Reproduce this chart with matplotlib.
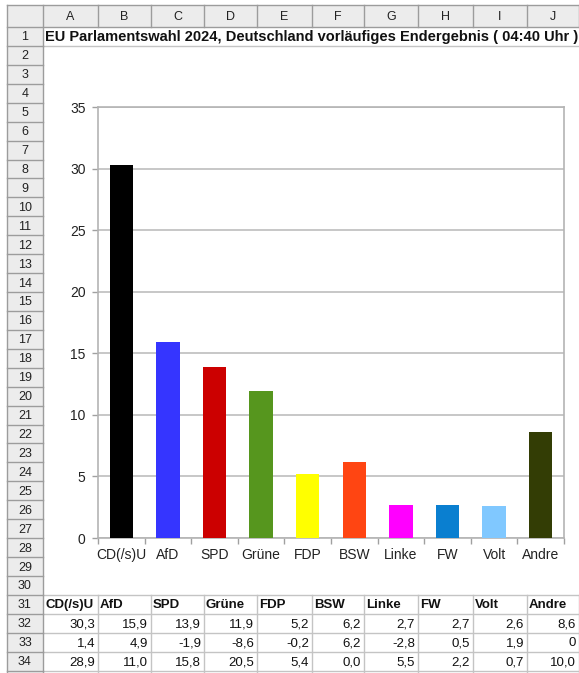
import matplotlib
matplotlib.use("Agg")
import matplotlib.pyplot as plt
from matplotlib.patches import Rectangle

W, H = 579, 673
DPI = 100

# ---------------- data ----------------
title = "EU Parlamentswahl 2024, Deutschland vorläufiges Endergebnis ( 04:40 Uhr )"
parties = ["CD(/s)U", "AfD", "SPD", "Grüne", "FDP", "BSW", "Linke", "FW", "Volt", "Andre"]
result_2024 = [30.3, 15.9, 13.9, 11.9, 5.2, 6.2, 2.7, 2.7, 2.6, 8.6]
change = [1.4, 4.9, -1.9, -8.6, -0.2, 6.2, -2.8, 0.5, 1.9, 0]
result_2019 = [28.9, 11.0, 15.8, 20.5, 5.4, 0.0, 5.5, 2.2, 0.7, 10.0]
bar_colors = ["#000000", "#3535ff", "#cc0000", "#56961e", "#ffff00",
              "#ff4512", "#ff00ff", "#0a7fd0", "#80c8ff", "#333d05"]
col_letters = ["A", "B", "C", "D", "E", "F", "G", "H", "I", "J"]
y_ticks = [0, 5, 10, 15, 20, 25, 30, 35]

# ---------------- sheet geometry (pixels) ----------------
col_edges = [43, 98, 151, 204, 257, 312, 364, 418, 473, 527, 579]
hdr_top, hdr_bot = 5, 27
row_h = 18.93
left_edge = 7
n_rows = 34


def row_top(k):
    return hdr_bot + (k - 1) * row_h


FONT = ["Liberation Sans", "DejaVu Sans"]
plt.rcParams["font.family"] = FONT

fig = plt.figure(figsize=(W / DPI, H / DPI), dpi=DPI)
bg = fig.add_axes([0, 0, 1, 1])
bg.set_xlim(0, W)
bg.set_ylim(H, 0)
bg.axis("off")

HDR_FACE = "#ececec"
HDR_LINE = "#9c9c9c"
GRID = "#c4c4c4"

# column header row
bg.add_patch(Rectangle((left_edge, hdr_top), W - left_edge, hdr_bot - hdr_top,
                       facecolor=HDR_FACE, edgecolor="none", zorder=1))
# row header column
bg.add_patch(Rectangle((left_edge, hdr_bot), col_edges[0] - left_edge, H - hdr_bot,
                       facecolor=HDR_FACE, edgecolor="none", zorder=1))
# header borders
bg.plot([left_edge, W], [hdr_top, hdr_top], color=HDR_LINE, lw=1, zorder=3)
bg.plot([left_edge, W], [hdr_bot, hdr_bot], color=HDR_LINE, lw=1, zorder=3)
bg.plot([left_edge, left_edge], [hdr_top, H], color=HDR_LINE, lw=1, zorder=3)
bg.plot([col_edges[0], col_edges[0]], [hdr_top, H], color=HDR_LINE, lw=1, zorder=3)
for x in col_edges[1:]:
    bg.plot([x, x], [hdr_top, hdr_bot], color=HDR_LINE, lw=1, zorder=3)
for i, letter in enumerate(col_letters):
    bg.text((col_edges[i] + col_edges[i + 1]) / 2, (hdr_top + hdr_bot) / 2 + 1, letter,
            ha="center", va="center", fontsize=9, color="#222222", zorder=4)
for k in range(1, n_rows + 1):
    yb = row_top(k + 1)
    bg.plot([left_edge, col_edges[0]], [yb, yb], color=HDR_LINE, lw=1, zorder=3)
    bg.text((left_edge + col_edges[0]) / 2, (row_top(k) + yb) / 2 + 1, str(k),
            ha="center", va="center", fontsize=9, color="#222222", zorder=4)

# row 1 bottom line and table grid (rows 31-34)
bg.plot([col_edges[0], W], [row_top(2), row_top(2)], color=GRID, lw=1, zorder=2)
for k in range(31, n_rows + 2):
    bg.plot([col_edges[0], W], [row_top(k), row_top(k)], color=GRID, lw=1, zorder=2)
for x in col_edges[1:]:
    bg.plot([x, x], [row_top(31), H], color=GRID, lw=1, zorder=2)

# title in row 1 (fit to its drawn width)
t = bg.text(45, (row_top(1) + row_top(2)) / 2 + 1, title, ha="left", va="center",
            fontsize=10, fontweight="bold", color="#111111", zorder=4)
fig.canvas.draw()
bb = t.get_window_extent()
t.set_fontsize(10 * 531 / bb.width)


def fmt(v):
    if isinstance(v, int):
        return str(v)
    return f"{v:.1f}".replace(".", ",")


for i, name in enumerate(parties):
    xl, xr = col_edges[i], col_edges[i + 1]
    yc = (row_top(31) + row_top(32)) / 2 + 1
    bg.text(xl + 2, yc, name, ha="left", va="center", fontsize=9.5,
            fontweight="bold", color="#111111", zorder=4)
    for r, series in zip((32, 33, 34), (result_2024, change, result_2019)):
        yc = (row_top(r) + row_top(r + 1)) / 2 + 1
        bg.text(xr - 3, yc, fmt(series[i]), ha="right", va="center",
                fontsize=9.5, color="#111111", zorder=4)

# ---------------- chart ----------------
px_l, px_r, px_t, px_b = 98, 564, 107, 538
ax = fig.add_axes([px_l / W, (H - px_b) / H, (px_r - px_l) / W, (px_b - px_t) / H])
ax.set_facecolor("none")
xs = list(range(len(parties)))
ax.bar(xs, result_2024, width=0.5, color=bar_colors, zorder=3)
ax.set_xlim(-0.5, len(parties) - 0.5)
ax.set_ylim(0, 35)
ax.set_yticks(y_ticks)
ax.set_yticklabels([str(v) for v in y_ticks])
ax.set_xticks(xs)
ax.set_xticklabels(parties)
ax.set_xticks([x - 0.5 for x in range(len(parties) + 1)], minor=True)
ax.grid(axis="y", color="#bdbdbd", lw=1.2, zorder=1)
for s in ax.spines.values():
    s.set_color("#b4b4b4")
    s.set_linewidth(1.2)
ax.tick_params(axis="x", which="major", length=0, pad=7, labelsize=10, labelcolor="#222222")
ax.tick_params(axis="x", which="minor", length=4, width=1, color="#a0a0a0", direction="out")
ax.tick_params(axis="y", length=4, width=1, color="#a0a0a0", pad=5, labelsize=10,
               labelcolor="#222222")

fig.savefig("out.png", dpi=DPI)
